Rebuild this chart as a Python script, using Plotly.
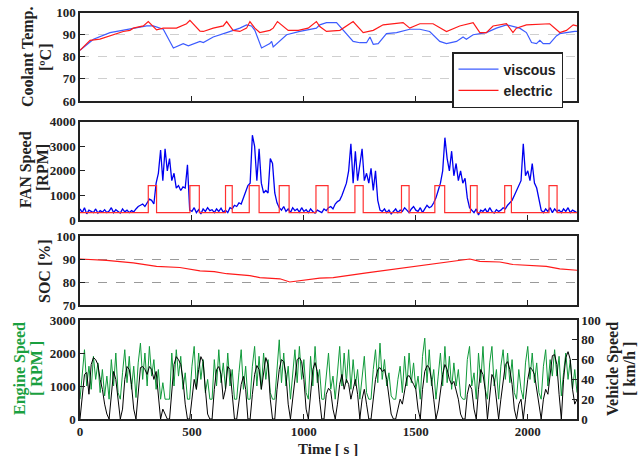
import plotly.graph_objects as go

W, H = 643, 456
T_STEP = 10  # s, sample interval of the regularly sampled series

# ---------- Panel 1: coolant temperature ----------
COOL_VISC_T = [0, 60, 134, 193, 253, 298, 327, 357, 372, 417, 461, 484, 536, 551, 595, 655, 714, 744, 766, 781,
               811, 848, 856, 863, 900, 923, 982, 1056, 1071, 1101, 1146, 1176, 1220, 1250, 1280, 1295, 1310, 1332,
               1369, 1414, 1473, 1518, 1562, 1607, 1637, 1682, 1711, 1726, 1756, 1815, 1860, 1905, 1964, 1994, 2017,
               2039, 2054, 2069, 2098, 2128, 2143, 2210, 2220]
COOL_VISC = [83, 88, 91, 92, 93, 94, 94, 93, 92.5, 84, 86, 85, 87, 86.5, 89, 91, 93, 94.5, 94, 92,
             84, 86, 87, 84.5, 88, 90, 91.5, 93, 94.5, 95.5, 95.5, 92, 87, 86.4, 86.4, 89, 85.7, 86,
             90.5, 91, 92.5, 92.5, 91.5, 87, 86, 87, 89, 88, 90, 91, 93, 94.5, 93, 91, 86.5,
             86, 87.5, 86, 86, 89.5, 90.5, 91.5, 91.5]
COOL_ELEC_T = [0, 45, 89, 134, 193, 223, 238, 283, 305, 342, 372, 431, 476, 491, 536, 551, 595, 640, 655, 684,
               714, 744, 759, 781, 803, 848, 863, 882, 915, 930, 975, 1019, 1056, 1071, 1101, 1161, 1220, 1265,
               1310, 1354, 1443, 1473, 1518, 1577, 1637, 1696, 1756, 1786, 1815, 1845, 1905, 1934, 1949, 1994,
               2098, 2143, 2173, 2203, 2220]
COOL_ELEC = [83, 87.5, 88, 89.5, 91.5, 92, 93, 94, 96, 92.2, 93, 93, 95, 96.5, 91.6, 91.5, 93, 94, 96, 92,
             91.5, 93, 96, 93, 91, 92, 93, 96, 93, 92, 92, 93, 96, 93.7, 91.5, 92, 96, 91,
             92, 94.5, 95.5, 93, 95, 95, 91.5, 94, 95.5, 91, 91, 94, 95, 91, 93, 94.5,
             95, 91, 92, 94.5, 94]

# ---------- Panel 2: fan speed ----------
FAN_VISC = [450, 300, 500, 250, 400, 350, 300, 450, 280, 380, 320, 420, 300, 360, 500, 300, 420, 350, 280, 450,
            330, 400, 300, 380, 330, 450, 550, 600, 650, 550, 700, 850, 800, 650, 1500, 1900, 2850, 1600, 2900, 2000,
            2500, 1600, 1900, 1300, 1400, 1200, 1350, 1300, 2250, 400, 350, 500, 300, 420, 250, 450, 350, 500, 380, 420,
            300, 450, 350, 480, 320, 400, 300, 500, 450, 600, 550, 700, 650, 900, 1100, 1400, 1500, 3450, 3000, 1600,
            2900, 1500, 1100, 1200, 1100, 2500, 2300, 1100, 700, 500, 400, 550, 350, 450, 300, 500, 380, 450, 320, 500,
            350, 420, 300, 450, 350, 280, 400, 350, 300, 450, 380, 500, 550, 450, 650, 750, 800, 1000, 1300, 1500,
            2000, 3100, 1500, 2800, 1600, 2200, 2900, 1600, 1900, 1500, 2100, 1200, 2000, 800, 400, 350, 450, 300, 400, 250,
            350, 450, 300, 400, 350, 500, 400, 300, 450, 550, 400, 350, 500, 300, 450, 600, 500, 550, 700, 900,
            1200, 1500, 2000, 3350, 2500, 2000, 2800, 1800, 2300, 1600, 2000, 1500, 1700, 900, 500, 400, 300, 450, 200, 400,
            350, 450, 300, 500, 350, 280, 420, 350, 400, 500, 450, 600, 700, 800, 1000, 1200, 1400, 1600, 3100, 1800,
            2000, 1600, 2300, 1500, 1300, 900, 400, 300, 450, 350, 500, 300, 450, 350, 400, 300, 450, 350, 500, 300,
            400, 350, 300]
FAN_ELEC_ON = [(305, 342), (491, 533), (650, 680), (756, 800), (890, 934), (1054, 1108), (1228, 1265),
               (1436, 1470), (1585, 1629), (1744, 1774), (1897, 1927), (2095, 2131)]
FAN_ELEC_LOW, FAN_ELEC_HIGH = 300, 1400

# ---------- Panel 3: SOC ----------
SOC_T = [0, 119, 238, 342, 446, 536, 600, 655, 759, 803, 893, 937, 1071, 1131, 1280, 1488, 1622, 1741, 1786,
         1875, 1934, 2083, 2143, 2220]
SOC = [90, 89.4, 88.3, 86.8, 86.3, 84.8, 84.5, 83.6, 82.8, 81.9, 81.4, 80, 81.7, 81.9, 84, 86.6, 88.3, 90, 89,
       88.7, 87.6, 86.8, 85.7, 85.1]

# ---------- Panel 4: engine speed and vehicle speed (10 s samples) ----------
ENGINE_RPM = [600, 1500, 2100, 1000, 1600, 900, 1900, 1200, 1700, 800, 1500, 700, 1300, 600, 1800, 1000, 2000, 800, 600, 1400,
              2100, 1100, 1900, 900, 1600, 650, 1700, 2300, 1200, 2000, 1000, 2200, 1300, 1800, 900, 1500, 600, 1100, 600, 600,
              600, 2000, 1000, 2100, 1300, 1900, 900, 1400, 600, 600, 1600, 2200, 900, 2000, 1200, 1800, 800, 1200, 600, 600,
              1800, 1000, 2100, 1100, 1700, 900, 2000, 1000, 1500, 600, 600, 1400, 2100, 900, 1600, 600, 600, 1600, 2200, 1000,
              1900, 900, 2000, 1200, 1800, 800, 600, 600, 1500, 2400, 1100, 2000, 1000, 1600, 600, 1300, 2100, 1100, 2200, 1200,
              1800, 800, 600, 1900, 1000, 2200, 1100, 1500, 600, 600, 1400, 2000, 900, 1300, 600, 1500, 2200, 1000, 2000, 1100,
              2100, 900, 1800, 1000, 1500, 600, 1300, 1900, 800, 600, 600, 1500, 2100, 1100, 2300, 1200, 1800, 1000, 1400, 700,
              600, 600, 1200, 1600, 800, 1900, 1000, 2000, 1100, 1700, 900, 1300, 600, 1900, 2450, 1100, 2100, 1000, 1500, 600,
              1300, 2000, 1000, 2200, 1100, 1900, 900, 1700, 1000, 1500, 700, 600, 600, 1800, 2200, 1000, 1400, 600, 2000, 1100,
              2200, 900, 600, 1700, 2200, 1000, 1500, 600, 1600, 2100, 1200, 2000, 1100, 1800, 800, 600, 1500, 900, 600, 1700,
              2200, 1200, 2000, 1100, 1700, 800, 600, 1600, 2100, 1000, 1800, 1300, 2100, 1300, 1900, 700, 1400, 2000, 1200, 1800,
              900, 1500, 800]
VEHICLE_KMH = [0, 20, 45, 47, 25, 55, 62, 60, 55, 40, 30, 15, 5, 0, 25, 48, 40, 20, 0, 10,
               40, 53, 50, 35, 10, 0, 30, 52, 53, 50, 45, 53, 50, 40, 48, 25, 0, 10, 5, 0,
               0, 30, 55, 63, 60, 55, 40, 15, 0, 0, 20, 40, 30, 50, 63, 58, 30, 5, 0, 0,
               30, 50, 53, 45, 20, 30, 53, 50, 25, 0, 0, 20, 35, 43, 30, 0, 0, 25, 45, 54,
               50, 30, 45, 62, 55, 20, 0, 0, 30, 50, 60, 58, 45, 15, 0, 20, 40, 60, 62, 58,
               40, 10, 0, 30, 50, 57, 48, 20, 0, 0, 25, 31, 28, 10, 0, 15, 35, 45, 30, 40,
               35, 20, 30, 40, 25, 0, 20, 30, 15, 0, 0, 20, 40, 50, 52, 48, 50, 40, 20, 5,
               0, 0, 10, 20, 15, 30, 42, 44, 40, 35, 30, 10, 0, 30, 48, 54, 52, 40, 20, 0,
               10, 30, 45, 55, 50, 40, 35, 38, 30, 20, 5, 0, 0, 25, 35, 30, 10, 0, 30, 50,
               45, 30, 0, 20, 45, 40, 20, 0, 20, 40, 55, 58, 50, 35, 10, 0, 15, 20, 0, 20,
               40, 52, 50, 45, 30, 10, 0, 20, 30, 25, 45, 64, 65, 55, 25, 0, 40, 62, 68, 60,
               30, 15, 20]

X_TICKS = [0, 500, 1000, 1500, 2000]
X_MAX = 2220

t_fan = [i * T_STEP for i in range(len(FAN_VISC))]
t_eng = [i * T_STEP for i in range(len(ENGINE_RPM))]
t_veh = [i * T_STEP for i in range(len(VEHICLE_KMH))]

# electric fan as step signal built from its on-intervals
fe_t, fe_v = [0], [FAN_ELEC_LOW]
for a, b in FAN_ELEC_ON:
    fe_t += [a, b]
    fe_v += [FAN_ELEC_HIGH, FAN_ELEC_LOW]
fe_t.append(X_MAX)
fe_v.append(FAN_ELEC_LOW)

fig = go.Figure()
fig.add_trace(go.Scatter(x=COOL_VISC_T, y=COOL_VISC, mode="lines", name="viscous",
                         line=dict(color="#3d5cff", width=1.2), xaxis="x", yaxis="y"))
fig.add_trace(go.Scatter(x=COOL_ELEC_T, y=COOL_ELEC, mode="lines", name="electric",
                         line=dict(color="#ff1a1a", width=1.2), xaxis="x", yaxis="y"))
fig.add_trace(go.Scatter(x=t_fan, y=FAN_VISC, mode="lines", showlegend=False,
                         line=dict(color="#0000f0", width=1.3), xaxis="x2", yaxis="y2"))
fig.add_trace(go.Scatter(x=fe_t, y=fe_v, mode="lines", line_shape="hv", showlegend=False,
                         line=dict(color="#ff3030", width=1.2), xaxis="x2", yaxis="y2"))
fig.add_trace(go.Scatter(x=SOC_T, y=SOC, mode="lines", showlegend=False,
                         line=dict(color="#ff1a1a", width=1.2), xaxis="x3", yaxis="y3"))
fig.add_trace(go.Scatter(x=t_eng, y=ENGINE_RPM, mode="lines", showlegend=False,
                         line=dict(color="#109a3a", width=1), xaxis="x4", yaxis="y4"))
fig.add_trace(go.Scatter(x=t_veh, y=VEHICLE_KMH, mode="lines", showlegend=False,
                         line=dict(color="#000000", width=1), xaxis="x4", yaxis="y5"))

XD = [80 / W, 577 / W]


def ydom(top, bottom):
    return [1 - bottom / H, 1 - top / H]


TF = dict(family="Liberation Serif", size=13, color="#222222", weight="bold")
frame = dict(showline=True, linecolor="#222222", linewidth=1.5, mirror=True, ticks="inside",
             ticklen=5, tickcolor="#222222", zeroline=False, automargin=False)

common_x = dict(domain=XD, range=[0, X_MAX], tickvals=X_TICKS, showgrid=False, **frame)

fig.update_layout(
    width=W, height=H, autosize=False, margin=dict(l=0, r=0, t=0, b=0, pad=0),
    paper_bgcolor="white", plot_bgcolor="white",
    xaxis=dict(anchor="y", showticklabels=False, **common_x),
    xaxis2=dict(anchor="y2", showticklabels=False, **common_x),
    xaxis3=dict(anchor="y3", showticklabels=False, **common_x),
    xaxis4=dict(anchor="y4", showticklabels=True, tickfont=TF, ticklabelstandoff=0, **common_x),
    yaxis=dict(domain=ydom(12.7, 101), anchor="x", range=[60, 100], tickvals=[60, 70, 80, 90, 100],
               showgrid=True, gridcolor="#cfcfcf", griddash="dash", gridwidth=1, tickfont=TF, **frame),
    yaxis2=dict(domain=ydom(121.7, 220), anchor="x2", range=[0, 4000], tickvals=[0, 1000, 2000, 3000, 4000],
                showgrid=False, tickfont=TF, **frame),
    yaxis3=dict(domain=ydom(236, 305), anchor="x3", range=[70, 100], tickvals=[70, 80, 90, 100],
                showgrid=True, gridcolor="#9a9a9a", griddash="dash", gridwidth=1, tickfont=TF, **frame),
    yaxis4=dict(domain=ydom(320, 419), anchor="x4", range=[0, 3000], tickvals=[0, 1000, 2000, 3000],
                showgrid=False, tickfont=TF, **frame),
    yaxis5=dict(overlaying="y4", anchor="x4", side="right", range=[0, 100], tickvals=[0, 20, 40, 60, 80, 100],
                showgrid=False, showline=True, linecolor="#222222", linewidth=1.5, ticks="inside", ticklen=5,
                tickcolor="#222222", zeroline=False, tickfont=TF, automargin=False),
    legend=dict(x=452 / W, y=1 - 52 / H, xanchor="left", yanchor="top",
                bgcolor="white", bordercolor="#222222", borderwidth=1.5,
                font=dict(family="Liberation Sans", size=14, color="#222222", weight="bold"),
                tracegroupgap=0, itemwidth=40),
    showlegend=True,
)

TITLE_FONT = dict(family="Liberation Serif", size=16, color="#222222", weight="bold")
GREEN_FONT = dict(family="Liberation Serif", size=16, color="#1aa040", weight="bold")


def ytitle(text, xpix, ycen, font):
    fig.add_annotation(text=text, x=xpix / W, y=1 - ycen / H, xref="paper", yref="paper",
                       textangle=-90, showarrow=False, font=font, xanchor="center", yanchor="middle")


ytitle("Coolant Temp.", 28, 57, TITLE_FONT)
ytitle("[ºC]", 45, 57, TITLE_FONT)
ytitle("FAN Speed", 26, 170, TITLE_FONT)
ytitle("[RPM]", 42, 168, TITLE_FONT)
ytitle("SOC [%]", 44, 271, TITLE_FONT)
ytitle("Engine Speed", 20, 369, GREEN_FONT)
ytitle("[ RPM ]", 36, 369, GREEN_FONT)
ytitle("Vehicle Speed", 613, 369, TITLE_FONT)
ytitle("[ km/h ]", 629, 369, TITLE_FONT)

fig.add_annotation(text="Time [ s ]", x=328 / W, y=1 - 449 / H, xref="paper", yref="paper",
                   showarrow=False, font=dict(family="Liberation Serif", size=15, color="#222222", weight="bold"),
                   xanchor="center", yanchor="middle")

fig.write_html("out.html")
